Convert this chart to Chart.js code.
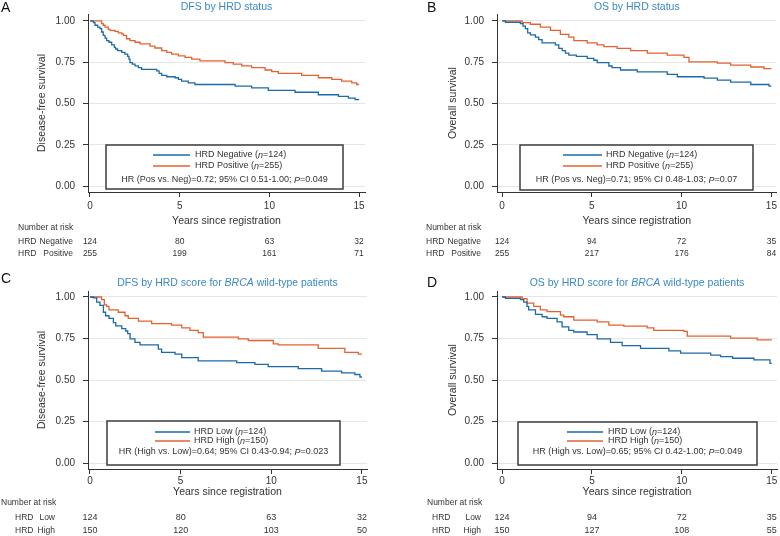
<!DOCTYPE html>
<html>
<head>
<meta charset="utf-8">
<script src="https://cdn.jsdelivr.net/npm/chart.js@4.4.0/dist/chart.umd.min.js"></script>
<style>
  html, body { margin: 0; padding: 0; background: #fff; }
  #wrap { position: relative; width: 780px; height: 536px; }
  #wrap canvas { position: absolute; }
</style>
</head>
<body>
<div id="wrap">
  <canvas id="panelA" width="390" height="268" style="left:0;top:0"></canvas>
  <canvas id="panelB" width="390" height="268" style="left:390px;top:0"></canvas>
  <canvas id="panelC" width="390" height="268" style="left:0;top:268px"></canvas>
  <canvas id="panelD" width="390" height="268" style="left:390px;top:268px"></canvas>
</div>
<script>
// Axis ticks
const xTicks = [0, 5, 10, 15];
const yTicks = [0, 0.25, 0.5, 0.75, 1];
const riskTimes = [0, 5, 10, 15];

// A: DFS by HRD status (years, survival)
const dfsNegTime = [0, 0.19, 0.28, 0.43, 0.56, 0.65, 0.74, 0.84, 0.93, 1.06, 1.21, 1.36, 1.43, 1.54, 1.77, 1.95, 2.10, 2.17, 2.23, 2.36, 2.51, 2.70, 2.88, 3.72, 3.85, 4.00, 4.28, 4.74, 4.93, 5.11, 5.48, 5.85, 8.09, 9.01, 9.94, 11.43, 12.73, 13.85, 14.41, 14.78, 15.0];
const dfsNegSurv = [1, 0.990, 0.974, 0.963, 0.953, 0.933, 0.912, 0.896, 0.881, 0.871, 0.855, 0.840, 0.830, 0.820, 0.810, 0.799, 0.785, 0.769, 0.748, 0.738, 0.728, 0.717, 0.707, 0.697, 0.683, 0.670, 0.662, 0.656, 0.646, 0.635, 0.625, 0.615, 0.605, 0.594, 0.580, 0.568, 0.553, 0.543, 0.533, 0.523, 0.523];
const dfsPosTime = [0, 0.65, 0.74, 0.84, 1.02, 1.12, 1.39, 1.58, 1.77, 1.86, 2.04, 2.23, 2.51, 2.79, 3.35, 3.62, 4.00, 4.28, 4.55, 4.93, 5.30, 5.67, 6.13, 7.53, 7.99, 8.46, 9.01, 9.76, 10.13, 10.50, 11.80, 12.73, 13.48, 14.03, 14.59, 14.87, 15.0];
const dfsPosSurv = [1, 0.984, 0.974, 0.963, 0.949, 0.943, 0.937, 0.928, 0.922, 0.912, 0.892, 0.881, 0.871, 0.861, 0.847, 0.836, 0.820, 0.810, 0.799, 0.789, 0.779, 0.769, 0.758, 0.748, 0.738, 0.728, 0.717, 0.703, 0.693, 0.683, 0.670, 0.656, 0.646, 0.635, 0.625, 0.615, 0.615];
const dfsNegRisk = [124, 80, 63, 32];
const dfsPosRisk = [255, 199, 161, 71];

// B: OS by HRD status
const osNegTime = [0, 0.19, 1.02, 1.17, 1.30, 1.43, 1.58, 1.86, 2.04, 2.23, 2.97, 3.16, 3.35, 3.53, 3.72, 4.14, 4.74, 5.11, 5.30, 5.95, 6.13, 6.60, 7.53, 9.20, 9.76, 11.25, 11.99, 12.73, 13.85, 14.87, 15.0];
const osNegSurv = [1, 0.992, 0.984, 0.969, 0.953, 0.928, 0.916, 0.902, 0.887, 0.867, 0.855, 0.834, 0.820, 0.805, 0.793, 0.785, 0.773, 0.762, 0.748, 0.727, 0.717, 0.703, 0.691, 0.676, 0.662, 0.654, 0.641, 0.629, 0.615, 0.605, 0.605];
const osPosTime = [0, 1.12, 1.58, 2.14, 2.70, 3.25, 3.72, 4.00, 4.74, 5.30, 5.67, 6.41, 7.16, 8.09, 9.20, 10.13, 10.41, 11.99, 12.73, 13.85, 14.59, 15.0];
const osPosSurv = [1, 0.990, 0.980, 0.963, 0.943, 0.918, 0.902, 0.881, 0.867, 0.855, 0.844, 0.834, 0.820, 0.805, 0.793, 0.779, 0.752, 0.744, 0.732, 0.721, 0.711, 0.711];
const osNegRisk = [124, 94, 72, 35];
const osPosRisk = [255, 217, 176, 84];

// C: DFS by HRD score, BRCA wild-type
const dfsLowTime = [0, 0.18, 0.37, 0.55, 0.74, 0.86, 1.05, 1.29, 1.42, 1.75, 1.97, 2.08, 2.21, 2.48, 2.76, 3.77, 3.95, 4.69, 5.06, 5.97, 8.09, 9.10, 9.83, 11.49, 12.78, 13.88, 14.61, 14.89, 15.0];
const dfsLowSurv = [1, 0.994, 0.969, 0.949, 0.908, 0.887, 0.871, 0.846, 0.826, 0.809, 0.795, 0.779, 0.748, 0.727, 0.711, 0.686, 0.666, 0.656, 0.635, 0.615, 0.605, 0.594, 0.580, 0.568, 0.553, 0.543, 0.533, 0.518, 0.518];
const dfsHighTime = [0, 0.64, 0.79, 0.92, 1.05, 1.56, 1.93, 2.11, 2.67, 3.40, 4.50, 5.06, 5.51, 5.97, 6.25, 8.18, 8.73, 10.11, 10.39, 12.59, 14.06, 14.80, 15.0];
const dfsHighSurv = [1, 0.984, 0.953, 0.943, 0.922, 0.908, 0.887, 0.871, 0.855, 0.840, 0.830, 0.814, 0.799, 0.785, 0.758, 0.748, 0.738, 0.717, 0.711, 0.691, 0.666, 0.656, 0.656];
const dfsLowRisk = [124, 80, 63, 32];
const dfsHighRisk = [150, 120, 103, 50];

// D: OS by HRD score, BRCA wild-type
const osLowTime = [0, 0.19, 1.02, 1.21, 1.39, 1.48, 1.86, 2.23, 2.50, 3.06, 3.34, 3.71, 3.99, 4.73, 5.29, 6.03, 6.68, 7.70, 9.28, 9.93, 11.60, 12.15, 12.82, 14.01, 14.90, 15.0];
const osLowSurv = [1, 0.992, 0.984, 0.969, 0.943, 0.922, 0.895, 0.881, 0.871, 0.850, 0.820, 0.799, 0.789, 0.773, 0.748, 0.727, 0.707, 0.691, 0.676, 0.662, 0.650, 0.641, 0.631, 0.621, 0.600, 0.600];
const osHighTime = [0, 1.12, 1.39, 1.76, 2.13, 2.50, 3.25, 3.43, 3.99, 5.29, 5.94, 6.77, 8.07, 8.44, 10.11, 10.30, 12.71, 14.19, 15.0];
const osHighSurv = [1, 0.990, 0.963, 0.943, 0.922, 0.912, 0.891, 0.881, 0.861, 0.850, 0.830, 0.824, 0.814, 0.799, 0.793, 0.764, 0.752, 0.742, 0.742];
const osLowRisk = [124, 94, 72, 35];
const osHighRisk = [150, 127, 108, 55];

const FONT = "'Liberation Sans', Arial, Helvetica, sans-serif";
const BLUE = "#1c6aa8";
const ORANGE = "#e4622f";
const TITLE_BLUE = "#3a88c9";
const INK = "#333333";

Chart.defaults.font.family = FONT;
Chart.defaults.color = INK;

function steps(times, surv) {
    return times.map((t, i) => ({ x: t, y: surv[i] }));
}

// one line of text built from plain and italic pieces
function richText(ctx, parts, x, y, align, size) {
    const fontOf = p => (p[1] ? "italic " : "") + size + "px " + FONT;
    let total = 0;
    parts.forEach(p => { ctx.font = fontOf(p); total += ctx.measureText(p[0]).width; });
    let cx = align === "center" ? x - total / 2 : align === "right" ? x - total : x;
    ctx.textAlign = "left";
    ctx.textBaseline = "middle";
    parts.forEach(p => {
        ctx.font = fontOf(p);
        ctx.fillText(p[0], cx, y);
        cx += ctx.measureText(p[0]).width;
    });
}

// panel letter, title, legend box and number-at-risk table
const kmExtras = {
    id: "kmExtras",
    afterDraw(chart, args, o) {
        const ctx = chart.ctx;
        const area = chart.chartArea;
        const xs = chart.scales.x;
        ctx.save();

        ctx.fillStyle = "#111";
        richText(ctx, [[o.letter]], o.letterPos[0], o.letterPos[1], "left", 14);
        ctx.fillStyle = TITLE_BLUE;
        richText(ctx, o.title, (area.left + area.right) / 2, o.titleY, "center", 10.5);

        const b = o.box;
        ctx.fillStyle = "#fff";
        ctx.fillRect(b[0], b[1], b[2] - b[0], b[3] - b[1]);
        ctx.strokeStyle = "#3d3d3d";
        ctx.lineWidth = 1.5;
        ctx.strokeRect(b[0], b[1], b[2] - b[0], b[3] - b[1]);
        o.keys.forEach((k, i) => {
            ctx.strokeStyle = k.color;
            ctx.lineWidth = 1.4;
            ctx.beginPath();
            ctx.moveTo(o.keyX[0], o.keyY[i]);
            ctx.lineTo(o.keyX[1], o.keyY[i]);
            ctx.stroke();
            ctx.fillStyle = INK;
            richText(ctx, k.text, o.keyX[2], o.keyY[i], "left", 9);
        });
        ctx.fillStyle = INK;
        richText(ctx, o.hr, (b[0] + b[2]) / 2, o.keyY[2], "center", 9);

        const r = o.risk;
        richText(ctx, [["Number at risk"]], r.labelX[0], r.rowY[0], "left", 8.5);
        r.rows.forEach((row, i) => {
            const y = r.rowY[i + 1];
            richText(ctx, [["HRD"]], r.labelX[1], y, "left", 8.5);
            richText(ctx, [[row.name]], r.labelX[2], y, "right", 8.5);
            row.counts.forEach((n, j) => {
                richText(ctx, [[String(n)]], xs.getPixelForValue(riskTimes[j]), y, "center", r.numSize);
            });
        });
        ctx.restore();
    }
};

function kmPanel(id, spec) {
    const line = (data, color) => ({
        data: data,
        borderColor: color,
        borderWidth: 1.3,
        stepped: "before",
        pointRadius: 0,
        fill: false
    });
    new Chart(document.getElementById(id), {
        type: "line",
        data: { datasets: [line(spec.first, BLUE), line(spec.second, ORANGE)] },
        options: {
            responsive: false,
            animation: false,
            devicePixelRatio: 1,
            layout: {
                autoPadding: false,
                padding: { left: 0, top: spec.top, right: spec.right, bottom: spec.bottom }
            },
            plugins: {
                legend: { display: false },
                tooltip: { enabled: false },
                kmExtras: spec.extras
            },
            scales: {
                x: {
                    type: "linear",
                    min: spec.xRange[0],
                    max: spec.xRange[1],
                    afterBuildTicks: s => { s.ticks = xTicks.map(v => ({ value: v })); },
                    afterFit: s => { s.height = spec.xHeight; },
                    border: { display: true, color: "#333", width: 1 },
                    grid: { drawOnChartArea: false, drawTicks: true, tickLength: 5, tickColor: "#333" },
                    ticks: { padding: spec.xTickPad, maxRotation: 0, font: { size: 10 }, color: INK },
                    title: {
                        display: true,
                        text: "Years since registration",
                        font: { size: 10.5 },
                        color: INK,
                        padding: { top: 0, bottom: 0 }
                    }
                },
                y: {
                    min: spec.yRange[0],
                    max: spec.yRange[1],
                    afterBuildTicks: s => { s.ticks = yTicks.map(v => ({ value: v })); },
                    afterFit: s => { s.width = spec.left; },
                    border: { display: true, color: "#333", width: 1 },
                    grid: { color: "#e6e6e6", lineWidth: 1, tickLength: 5, tickColor: "#333" },
                    ticks: { padding: 8, font: { size: 10 }, color: INK, callback: v => v.toFixed(2) },
                    title: {
                        display: true,
                        text: spec.yTitle,
                        font: { size: 10.5 },
                        color: INK,
                        padding: { top: spec.yTitlePad, bottom: 0 }
                    }
                }
            }
        },
        plugins: [kmExtras]
    });
}

const n = "n";
kmPanel("panelA", {
    first: steps(dfsNegTime, dfsNegSurv),
    second: steps(dfsPosTime, dfsPosSurv),
    top: 14, right: 25, bottom: 41, left: 88, xHeight: 35, xTickPad: 3,
    xRange: [-0.11, 15.33], yRange: [-0.036, 1.042],
    yTitle: "Disease-free survival", yTitlePad: 36,
    extras: {
        letter: "A", letterPos: [1, 8], titleY: 7,
        title: [["DFS by HRD status"]],
        box: [106, 145, 343, 189], keyX: [153, 190, 195], keyY: [155, 166, 180],
        keys: [
            { color: BLUE, text: [["HRD Negative ("], [n, true], ["=124)"]] },
            { color: ORANGE, text: [["HRD Positive ("], [n, true], ["=255)"]] }
        ],
        hr: [["HR (Pos vs. Neg)=0.72; 95% CI 0.51-1.00; "], ["P", true], ["=0.049"]],
        risk: {
            labelX: [18, 18, 73], rowY: [228, 241.5, 254], numSize: 8.5,
            rows: [{ name: "Negative", counts: dfsNegRisk }, { name: "Positive", counts: dfsPosRisk }]
        }
    }
});

kmPanel("panelB", {
    first: steps(osNegTime, osNegSurv),
    second: steps(osPosTime, osPosSurv),
    top: 14, right: 3, bottom: 41, left: 107, xHeight: 35, xTickPad: 3,
    xRange: [-0.28, 15.29], yRange: [-0.036, 1.042],
    yTitle: "Overall survival", yTitlePad: 57,
    extras: {
        letter: "B", letterPos: [37, 8], titleY: 7,
        title: [["OS by HRD status"]],
        box: [130, 145, 363, 190], keyX: [173, 212, 216], keyY: [155, 166, 180],
        keys: [
            { color: BLUE, text: [["HRD Negative ("], [n, true], ["=124)"]] },
            { color: ORANGE, text: [["HRD Positive ("], [n, true], ["=255)"]] }
        ],
        hr: [["HR (Pos vs. Neg)=0.71; 95% CI 0.48-1.03; "], ["P", true], ["=0.07"]],
        risk: {
            labelX: [36, 36, 91], rowY: [228, 241.5, 254], numSize: 8.5,
            rows: [{ name: "Negative", counts: osNegRisk }, { name: "Positive", counts: osPosRisk }]
        }
    }
});

kmPanel("panelC", {
    first: steps(dfsLowTime, dfsLowSurv),
    second: steps(dfsHighTime, dfsHighSurv),
    top: 23, right: 23, bottom: 38, left: 88, xHeight: 29, xTickPad: 1,
    xRange: [-0.11, 15.28], yRange: [-0.036, 1.036],
    yTitle: "Disease-free survival", yTitlePad: 36,
    extras: {
        letter: "C", letterPos: [1, 11], titleY: 15,
        title: [["DFS by HRD score for "], ["BRCA", true], [" wild-type patients"]],
        box: [107, 153, 340, 197], keyX: [155, 190, 194], keyY: [164, 173, 184],
        keys: [
            { color: BLUE, text: [["HRD Low ("], [n, true], ["=124)"]] },
            { color: ORANGE, text: [["HRD High ("], [n, true], ["=150)"]] }
        ],
        hr: [["HR (High vs. Low)=0.64; 95% CI 0.43-0.94; "], ["P", true], ["=0.023"]],
        risk: {
            labelX: [1, 15, 55], rowY: [235, 250, 263], numSize: 9,
            rows: [{ name: "Low", counts: dfsLowRisk }, { name: "High", counts: dfsHighRisk }]
        }
    }
});

kmPanel("panelD", {
    first: steps(osLowTime, osLowSurv),
    second: steps(osHighTime, osHighSurv),
    top: 23, right: 3, bottom: 38, left: 107, xHeight: 29, xTickPad: 1,
    xRange: [-0.28, 15.29], yRange: [-0.036, 1.036],
    yTitle: "Overall survival", yTitlePad: 57,
    extras: {
        letter: "D", letterPos: [37, 15], titleY: 15,
        title: [["OS by HRD score for "], ["BRCA", true], [" wild-type patients"]],
        box: [128, 154, 367, 197], keyX: [177, 213, 218], keyY: [164, 173, 184],
        keys: [
            { color: BLUE, text: [["HRD Low ("], [n, true], ["=124)"]] },
            { color: ORANGE, text: [["HRD High ("], [n, true], ["=150)"]] }
        ],
        hr: [["HR (High vs. Low)=0.65; 95% CI 0.42-1.00; "], ["P", true], ["=0.049"]],
        risk: {
            labelX: [37, 42, 91], rowY: [235, 250, 263], numSize: 9,
            rows: [{ name: "Low", counts: osLowRisk }, { name: "High", counts: osHighRisk }]
        }
    }
});
</script>
</body>
</html>
